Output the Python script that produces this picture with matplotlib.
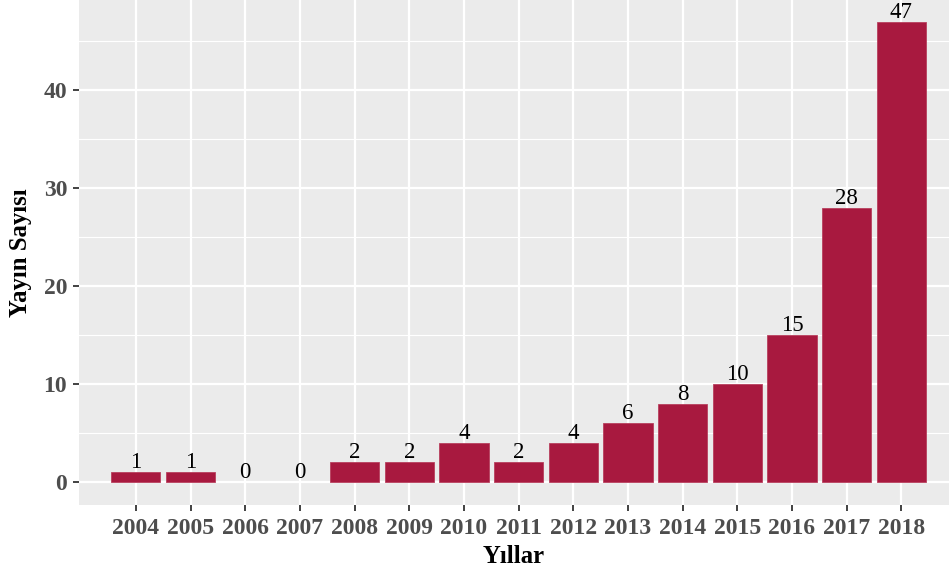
import numpy as np
import matplotlib.pyplot as plt
from matplotlib.ticker import MultipleLocator

years = ["2004", "2005", "2006", "2007", "2008", "2009", "2010", "2011",
         "2012", "2013", "2014", "2015", "2016", "2017", "2018"]
counts = [1, 1, 0, 0, 2, 2, 4, 2, 4, 6, 8, 10, 15, 28, 47]

plt.rcParams['font.family'] = ['Liberation Serif', 'DejaVu Serif']

fig = plt.figure(figsize=(9.49, 5.75), dpi=100)
ax = fig.add_axes([79 / 949, 1 - 505 / 575, 1 - 79 / 949, 505 / 575])
ax.set_facecolor('#EBEBEB')

x = np.arange(len(years))
# ggplot draws nothing for zero-height bars, so skip their outline
edges = ['#B8405E' if c > 0 else 'none' for c in counts]
ax.bar(x, counts, width=0.9, color='#A8193F', edgecolor=edges, linewidth=0.6, zorder=3)

for xi, c in zip(x, counts):
    ax.annotate(str(c), (xi, c), xytext=(0, 4), textcoords='offset pixels',
                ha='center', va='baseline', fontsize=16.5, color='black', zorder=4)

ax.set_xlim(-1.04, len(years) - 1 + 0.87)
ax.set_ylim(-2.35, 49.2)
ax.set_xticks(x)
ax.set_xticklabels(years)
ax.yaxis.set_major_locator(MultipleLocator(10))
ax.yaxis.set_minor_locator(MultipleLocator(5))

ax.grid(which='major', color='white', linewidth=1.6, zorder=0)
ax.grid(which='minor', axis='y', color='white', linewidth=0.8, zorder=0)
ax.set_axisbelow(True)
for s in ax.spines.values():
    s.set_visible(False)

ax.tick_params(axis='both', which='major', length=4.5, width=1.3, color='#333333',
               labelcolor='#4D4D4D', labelsize=17, pad=4)
ax.tick_params(axis='x', pad=5)
ax.tick_params(which='minor', length=0)
for lab in ax.get_xticklabels() + ax.get_yticklabels():
    lab.set_fontweight('bold')

ax.set_xlabel("Yıllar", fontsize=17.8, fontweight='bold', labelpad=4)
ax.set_ylabel("Yayın Sayısı", fontsize=17.8, fontweight='bold', labelpad=8)

fig.savefig("out.png", dpi=100)
